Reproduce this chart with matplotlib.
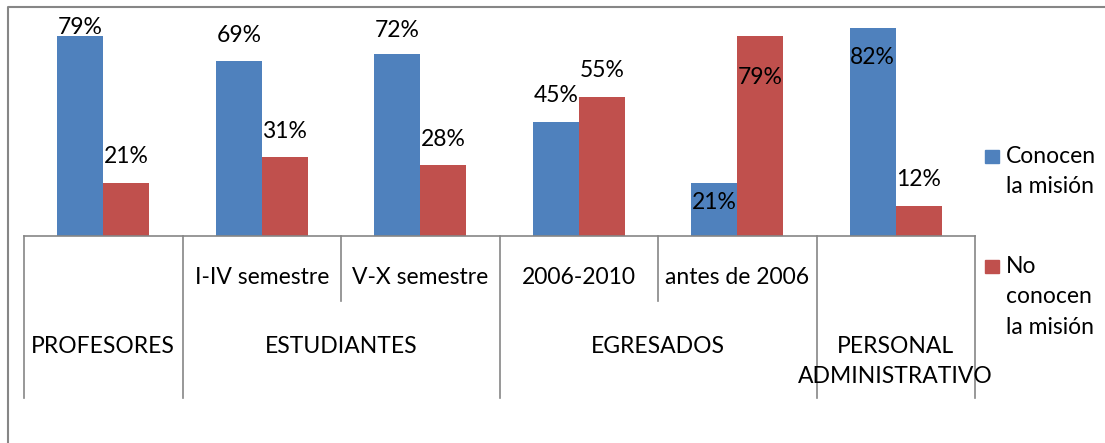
import matplotlib
matplotlib.use("Agg")
import matplotlib.pyplot as plt
from matplotlib.patches import Rectangle
from matplotlib.lines import Line2D

plt.rcParams['font.family'] = ['Lato', 'DejaVu Sans']

# data
subcats = ['', 'I-IV semestre', 'V-X semestre', '2006-2010', 'antes de 2006', '']
groups = ['PROFESORES', 'ESTUDIANTES', 'EGRESADOS', 'PERSONAL\nADMINISTRATIVO']
group_sizes = [1, 2, 2, 1]
conocen = [0.79, 0.69, 0.72, 0.45, 0.21, 0.82]
no_conocen = [0.21, 0.31, 0.28, 0.55, 0.79, 0.12]
series_names = ['Conocen\nla misión', 'No\nconocen\nla misión']

# label shift above the bar top, in pixels (Excel nudged a few into the bars)
dy_blue = [8, 26, 23, 26, -20, -29]
dy_red = [26, 26, 26, 26, -42, 26]

BLUE = '#4F81BD'
RED = '#C0504D'
GRID = '#868686'
FS = 16.5
LS = 1.55

W, H = 1105, 443
fig = plt.figure(figsize=(W / 100, H / 100), dpi=100)
ax = fig.add_axes([24 / W, 1 - 236 / H, (975 - 24) / W, (236 - 8) / H])

x = list(range(len(subcats)))
bw = 0.29
b1 = ax.bar([i - bw / 2 for i in x], conocen, bw, color=BLUE)
b2 = ax.bar([i + bw / 2 for i in x], no_conocen, bw, color=RED)

for bars, vals, dys in ((b1, conocen, dy_blue), (b2, no_conocen, dy_red)):
    for b, v, d in zip(bars, vals, dys):
        ax.annotate(f'{round(v * 100)}%', (b.get_x() + b.get_width() / 2, v),
                    xytext=(0, d * 0.72), textcoords='offset points',
                    ha='center', va='center', fontsize=FS, color='black')

ax.set_xlim(-0.5, len(subcats) - 0.5)
ax.set_ylim(0, 0.9)
for s in ['top', 'right', 'left']:
    ax.spines[s].set_visible(False)
ax.spines['bottom'].set_color(GRID)
ax.spines['bottom'].set_linewidth(1.2)
ax.set_xticks([])
ax.set_yticks([])

# two-level category axis drawn below the baseline
ppu = 228 / 0.9  # pixels per y unit
y_bottom = -(398 - 236) / ppu
y_sub = -(301 - 236) / ppu
y_sublabel = -(278 - 236) / ppu
y_group = -(336 - 236) / ppu

kw = dict(color=GRID, lw=1.2, clip_on=False)
start = 0
for g, n in zip(groups, group_sizes):
    left = start - 0.5
    ax.plot([left, left], [0, y_bottom], **kw)
    for k in range(1, n):
        ax.plot([left + k, left + k], [0, y_sub], **kw)
    ax.text(start + (n - 1) / 2, y_group, g, ha='center', va='top',
            fontsize=FS, linespacing=LS)
    start += n
ax.plot([start - 0.5, start - 0.5], [0, y_bottom], **kw)

for i, s in enumerate(subcats):
    if s:
        ax.text(i, y_sublabel, s, ha='center', va='center', fontsize=FS)

# legend, drawn by hand so the squares sit beside the first line
for j, (name, col, ytop) in enumerate(zip(series_names, [BLUE, RED], [150, 260])):
    fig.patches.append(Rectangle((985 / W, 1 - (ytop + 13) / H), 14 / W, 13 / H,
                                 transform=fig.transFigure, color=col))
    fig.text(1006 / W, 1 - (ytop - 4) / H, name, ha='left', va='top',
             fontsize=FS, linespacing=LS)

# chart area border (cut off at right and bottom in the reference)
fig.lines.append(Line2D([8 / W, 8 / W, 1], [0, 1 - 7 / H, 1 - 7 / H],
                        transform=fig.transFigure, color=GRID, lw=1.5))

fig.savefig('out.png', dpi=100, facecolor='white')
